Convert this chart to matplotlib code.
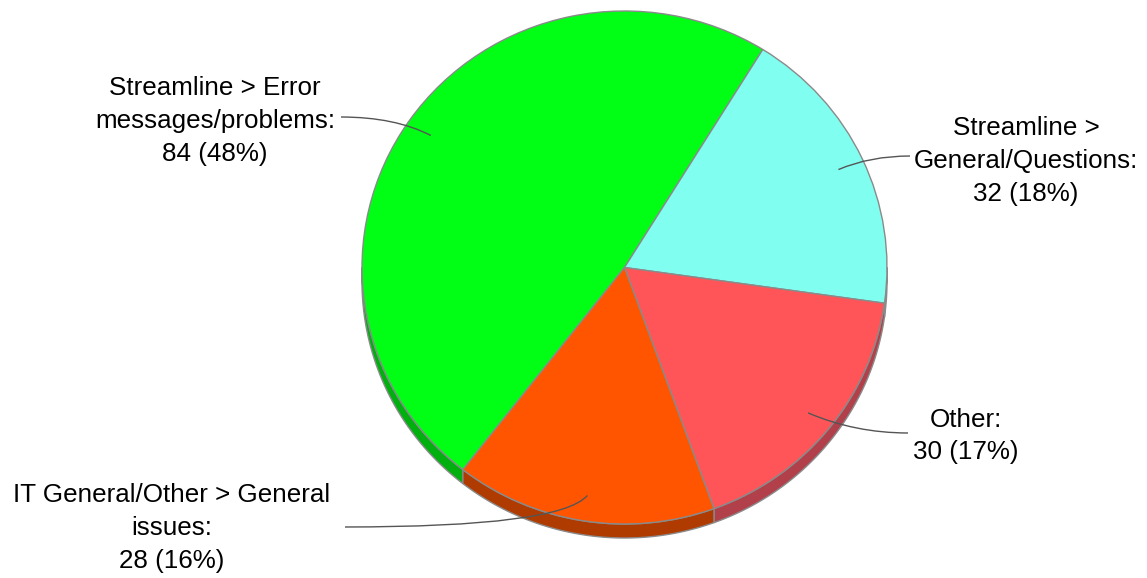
import numpy as np
import matplotlib.pyplot as plt
from matplotlib.patches import Polygon, PathPatch
from matplotlib.path import Path

categories = ["Streamline > Error\nmessages/problems",
              "Streamline >\nGeneral/Questions",
              "Other",
              "IT General/Other > General\nissues"]
counts = [84, 32, 30, 28]
top_colors = ["#00ff15", "#80fff1", "#ff5558", "#ff5500"]
side_colors = ["#00b00f", "#b3b3a8", "#b2404a", "#b03b00"]

# pie geometry in pixels
W, H = 1147, 578
cx, cy, rx, ry = 624.5, 267.5, 262.5, 256.5
depth = 14.0

# label block centres and where their leader lines start (pixels)
label_pos = [(215, 121), (1026, 161), (966, 436), (172, 528)]
leader_start = [(341, 117), (910, 156), (908, 433), (345, 527)]
leader_ctrl = [(395, 117), (870, 156), (855, 433), (560, 527)]


def px(x, y):
    return (x - cx) / rx, (cy - y) / ry


plt.rcParams['font.family'] = ['Liberation Sans', 'DejaVu Sans']
fig = plt.figure(figsize=(W / 100, H / 100), dpi=100)
ax = fig.add_axes([0, 0, 1, 1])

wedges, _ = ax.pie(counts, colors=top_colors, startangle=232, counterclock=False,
                   wedgeprops=dict(edgecolor="#8a8a8a", linewidth=1.0, zorder=3))
ax.set_aspect('auto')
ax.set_xlim(-cx / rx, (W - cx) / rx)
ax.set_ylim((cy - H) / ry, cy / ry)
ax.axis('off')

# the rim of the pie (front half only)
d = depth / ry
for w, col in zip(wedges, side_colors):
    t1, t2 = w.theta1, w.theta2
    for k in (-1, 0, 1):
        a = max(t1, 180 + 360 * k)
        b = min(t2, 360 + 360 * k)
        if b <= a:
            continue
        th = np.radians(np.linspace(a, b, 80))
        top = np.column_stack([np.cos(th), np.sin(th)])
        bot = top[::-1] - [0, d]
        ax.add_patch(Polygon(np.vstack([top, bot]), closed=True, facecolor=col,
                             edgecolor="#8a8a8a", linewidth=1.0, zorder=2))

total = sum(counts)
for w, cat, v, lp, ls, lc in zip(wedges, categories, counts, label_pos,
                                 leader_start, leader_ctrl):
    pct = round(100 * v / total)
    ax.text(*px(*lp), f"{cat}:\n{v} ({pct}%)", ha='center', va='center',
            fontsize=18.7, linespacing=1.45, color='black', zorder=5)
    mid = np.radians((w.theta1 + w.theta2) / 2)
    end = (0.9 * np.cos(mid), 0.9 * np.sin(mid))
    path = Path([px(*ls), px(*lc), end], [Path.MOVETO, Path.CURVE3, Path.CURVE3])
    ax.add_patch(PathPatch(path, facecolor='none', edgecolor='#555555',
                           linewidth=1.0, zorder=4))

fig.savefig("out.png", dpi=100)
